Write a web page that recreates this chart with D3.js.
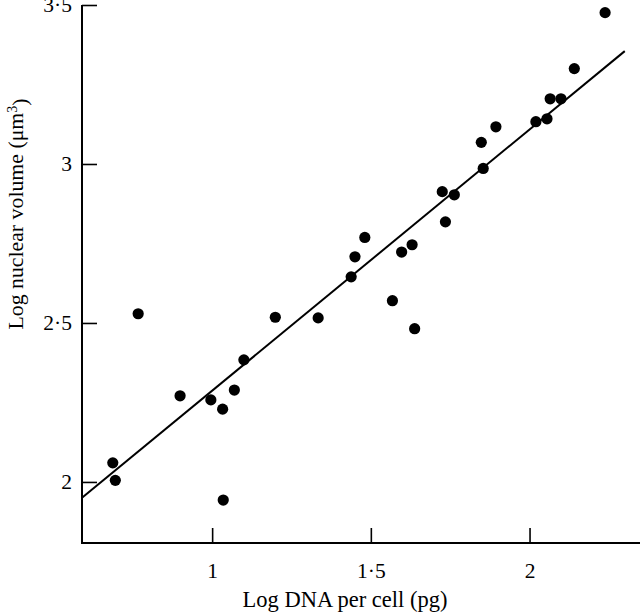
<!DOCTYPE html>
<html>
<head>
<meta charset="utf-8">
<script src="https://cdn.jsdelivr.net/npm/d3@7"></script>
<style>
  html, body { margin: 0; padding: 0; background: #fff; }
  svg { display: block; }
  text { font-family: "Liberation Serif", "Times New Roman", serif; fill: #000; }
</style>
</head>
<body>
<svg id="chart" width="640" height="614"></svg>
<script>
// Data
const dnaLog = [0.687, 0.695, 0.767, 0.899, 0.996, 1.033, 1.035, 1.070, 1.100, 1.199,
                1.334, 1.438, 1.450, 1.481, 1.568, 1.597, 1.630, 1.638, 1.725, 1.735,
                1.763, 1.848, 1.854, 1.894, 2.020, 2.055, 2.065, 2.099, 2.141, 2.238];
const volLog = [2.060, 2.005, 2.529, 2.271, 2.258, 2.229, 1.943, 2.289, 2.384, 2.518,
                2.516, 2.645, 2.708, 2.769, 2.570, 2.723, 2.746, 2.482, 2.913, 2.818,
                2.903, 3.068, 2.986, 3.117, 3.133, 3.142, 3.205, 3.205, 3.300, 3.476];
const fitX = [0.59, 2.30];
const fitY = [1.95, 3.355];
const xTicks = [1, 1.5, 2];
const yTicks = [2, 2.5, 3, 3.5];
const xTitle = "Log DNA per cell (pg)";

const svg = d3.select("#chart");
const x = d3.scaleLinear().domain([0.59, 2.348]).range([82, 640]);
const y = d3.scaleLinear().domain([1.808, 3.5]).range([543, 5]);
const fmt = v => String(v).replace(".", "\u00B7");

// Y axis
const gy = svg.append("g").attr("transform", `translate(${x(0.59)},0)`)
  .call(d3.axisLeft(y).tickValues(yTicks).tickFormat(fmt).tickSizeInner(-15).tickSizeOuter(0).tickPadding(10));
gy.select(".domain").remove();
gy.selectAll(".tick line").attr("stroke", "#000").attr("stroke-width", 1.6);
gy.selectAll(".tick text").style("font-size", "21.5px").style("font-family", "Liberation Serif");

// X axis
const gx = svg.append("g").attr("transform", `translate(0,${y(1.808)})`)
  .call(d3.axisBottom(x).tickValues(xTicks).tickFormat(fmt).tickSizeInner(-15).tickSizeOuter(0).tickPadding(20));
gx.select(".domain").remove();
gx.selectAll(".tick line").attr("stroke", "#000").attr("stroke-width", 1.6);
gx.selectAll(".tick text").style("font-size", "21.5px").style("font-family", "Liberation Serif");

// axis lines
svg.append("path")
  .attr("d", `M${x(0.59)},${y(3.5)}V${y(1.808)}H${x(2.348)}`)
  .attr("fill", "none").attr("stroke", "#000").attr("stroke-width", 2);

// regression line
svg.append("line")
  .attr("x1", x(fitX[0])).attr("y1", y(fitY[0]))
  .attr("x2", x(fitX[1])).attr("y2", y(fitY[1]))
  .attr("stroke", "#000").attr("stroke-width", 2);

// points
svg.append("g").selectAll("circle")
  .data(dnaLog.map((d, i) => [d, volLog[i]]))
  .join("circle")
  .attr("cx", d => x(d[0])).attr("cy", d => y(d[1]))
  .attr("r", 5.6).attr("fill", "#000");

// axis titles
svg.append("text")
  .attr("x", 345).attr("y", 607)
  .attr("text-anchor", "middle").style("font-size", "22.5px")
  .text(xTitle);

const yt = svg.append("text")
  .attr("transform", "translate(23,214) rotate(-90)")
  .attr("text-anchor", "middle").style("font-size", "21.8px");
yt.append("tspan").text("Log nuclear volume (\u03BCm");
yt.append("tspan").attr("dy", "-0.45em").style("font-size", "14px").text("3");
yt.append("tspan").attr("dy", "0.45em").text(")");
</script>
</body>
</html>
